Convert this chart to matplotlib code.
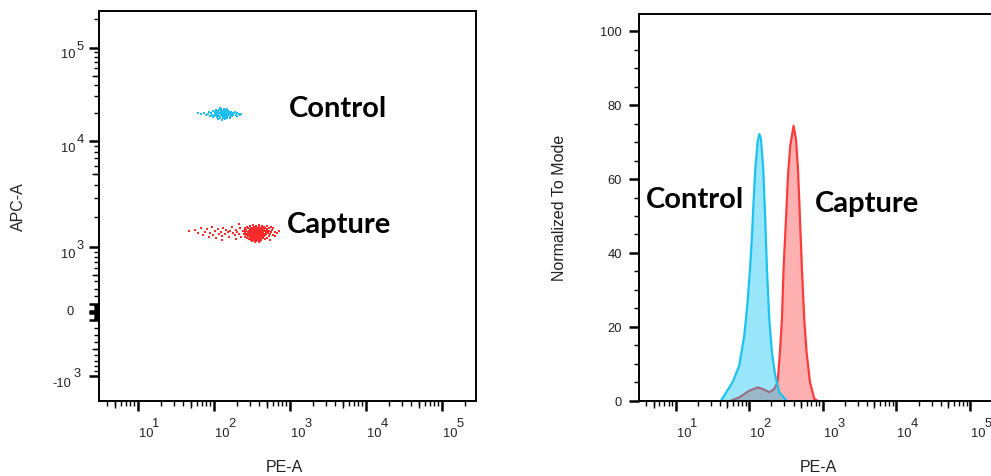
import numpy as np
import matplotlib
matplotlib.use('Agg')
import matplotlib.pyplot as plt

# ---------------- data ----------------
# Left panel: dot plot (PE-A vs APC-A)
control_pe = [62, 68, 74, 79, 83, 88, 90, 93, 96, 98, 101, 103, 105, 107, 109, 110, 112, 113, 115, 116,
              118, 119, 121, 122, 123, 124, 125, 126, 127, 128, 129, 130, 131, 132, 133, 134, 135, 136,
              137, 138, 139, 140, 141, 142, 143, 144, 145, 147, 148, 150, 151, 153, 155, 156, 158, 160,
              162, 164, 166, 168, 170, 173, 176, 179, 182, 186, 190, 195, 200, 205, 212, 220, 232,
              98, 115, 128, 140, 120, 108, 150]
control_apc = [19800, 19300, 20100, 19000, 19600, 20400, 18700, 19900, 19200, 20800, 18500, 19500, 20200,
               18900, 21000, 19700, 18200, 20500, 19100, 21400, 19800, 18600, 20100, 17800, 19400, 20900,
               18900, 21800, 19600, 20300, 18300, 19900, 21100, 17600, 20600, 19200, 18700, 22000, 20000,
               19400, 18100, 20800, 19700, 17900, 21300, 18800, 20200, 19300, 17500, 20700, 18400, 19800,
               21000, 18900, 19500, 20300, 18200, 19900, 17700, 20500, 19100, 18500, 20000, 19400, 18800,
               19700, 20400, 19000, 18600, 19800, 19300, 18900, 19500,
               17900, 17200, 16800, 17000, 22500, 21600, 21900]

capture_core_apc_rows = [1700, 1660, 1620, 1590, 1560, 1530, 1505, 1480, 1455, 1430, 1405,
                         1380, 1355, 1330, 1305, 1280, 1255, 1230, 1200, 1170, 1140]
capture_core_pe_rows = [
    [330, 400],
    [300, 365, 430, 510],
    [275, 340, 390, 455, 560],
    [262, 310, 355, 380, 420, 480],
    [285, 325, 348, 372, 398, 440, 530, 610],
    [255, 300, 332, 360, 385, 410, 450, 500],
    [270, 315, 342, 366, 392, 418, 465, 585],
    [248, 290, 322, 350, 376, 402, 430, 475, 540],
    [265, 305, 335, 358, 380, 395, 425, 455, 505],
    [280, 312, 340, 362, 385, 408, 440, 490, 570, 650],
    [258, 296, 328, 352, 370, 390, 415, 448, 520],
    [272, 308, 338, 356, 378, 400, 428, 470, 545],
    [250, 288, 318, 345, 368, 388, 412, 445, 495],
    [268, 300, 332, 355, 382, 405, 438, 480, 600],
    [282, 315, 342, 372, 395, 425, 460, 530],
    [260, 298, 330, 360, 385, 415, 450],
    [276, 310, 345, 375, 402, 440, 510],
    [290, 325, 358, 390, 425, 470],
    [305, 340, 380, 420, 555],
    [320, 365, 405],
    [350, 390],
]
capture_tail_pe = [47, 56, 62, 68, 72, 76, 81, 86, 90, 95, 99, 104, 108, 113, 118, 123, 128, 134, 140,
                   146, 152, 158, 165, 172, 180, 188, 196, 205, 214, 224, 232, 240, 215, 198, 130,
                   680, 720, 640]
capture_tail_apc = [1480, 1500, 1390, 1560, 1330, 1450, 1520, 1280, 1410, 1600, 1350, 1470, 1250, 1540,
                    1380, 1440, 1300, 1580, 1360, 1500, 1420, 1270, 1460, 1620, 1390, 1330, 1510, 1440,
                    1370, 1560, 1290, 1470, 1720, 1230, 1200,
                    1400, 1480, 1300]

# Right panel: histograms (Normalized To Mode vs PE-A)
control_hist_pe = [41.2, 59.3, 73.1, 85.5, 94.8, 102.3, 108.9, 114.3, 120.8, 129.7, 136.8, 144.2,
                   154.9, 164.8, 173.8, 187.1, 203.2, 225.4, 255.9, 321.4]
control_hist_mode = [0, 5.0, 9.5, 17.6, 26.6, 35.6, 44.7, 53.7, 62.7, 70.0, 72.2, 70.9,
                     62.7, 49.2, 35.6, 22.1, 13.1, 6.8, 2.3, 0]
capture_hist_pe = [56.4, 73.1, 100.0, 129.7, 151.7, 187.1, 218.8, 242.7, 261.2, 278.0, 292.4, 315.5,
                   335.7, 360.6, 399.9, 431.5, 459.2, 488.7, 520.0, 558.5, 601.2, 668.3, 763.8, 847.2]
capture_hist_mode = [0, 0.9, 2.7, 3.6, 3.2, 2.3, 3.2, 5.0, 13.1, 22.1, 35.6, 49.2,
                     60.9, 69.0, 74.4, 70.8, 62.7, 49.2, 35.6, 22.1, 13.1, 5.0, 0.5, 0]

decade_exps = [1, 2, 3, 4, 5]
apc_major = [-1000, 0, 1000, 10000, 100000]
mode_major = [0, 20, 40, 60, 80, 100]

# ---------------- style ----------------
W_PX, H_PX = 991, 477
TXT = '#222222'
TICK_FONT = 'Liberation Sans'
BOLD_FONT = 'Lato'
BLUE_DOT = '#1ebef2'
RED_DOT = '#ff2a2a'

fig = plt.figure(figsize=(W_PX / 100, H_PX / 100), dpi=100)


def fpos(x0, y0, x1, y1):
    return [x0 / W_PX, 1 - y1 / H_PX, (x1 - x0) / W_PX, (y1 - y0) / H_PX]


axL = fig.add_axes(fpos(99, 12, 476, 402))
axR = fig.add_axes(fpos(638.7, 15, 1000, 402))

# ---- biexponential-like scale for APC-A ----
LW = 700.0
anch_val = np.array(apc_major, dtype=float)
anch_pos = np.array([-64.0, 0.0, 65.0, 171.0, 264.5])
a = np.arcsinh(anch_val / LW)
s_lo = (anch_pos[1] - anch_pos[0]) / (a[1] - a[0])
s_hi = (anch_pos[-1] - anch_pos[-2]) / (a[-1] - a[-2])
A_ext = np.concatenate([[a[0] - 20], a, [a[-1] + 20]])
P_ext = np.concatenate([[anch_pos[0] - 20 * s_lo], anch_pos, [anch_pos[-1] + 20 * s_hi]])


def fwd(y):
    return np.interp(np.arcsinh(np.asarray(y, dtype=float) / LW), A_ext, P_ext)


def inv(p):
    return LW * np.sinh(np.interp(np.asarray(p, dtype=float), P_ext, A_ext))


axL.set_yscale('function', functions=(fwd, inv))
axL.set_xscale('log')
axR.set_xscale('log')

XL_L = (10 ** (1 - (137.7 - 99) / 76.0), 10 ** (5 + (476 - 441.7) / 76.0))
YL_L = (float(inv(-89.0)), float(inv(301.0)))
XL_R = (10 ** (1 - (675.7 - 638.7) / 73.6), 10 ** (5 + (1000 - 970) / 73.6))
YL_R = (-0.08, 104.7)

# ---- marks ----
capture_core_pe = [p for row in capture_core_pe_rows for p in row]
capture_core_apc = [y for y, row in zip(capture_core_apc_rows, capture_core_pe_rows) for _ in row]

axL.scatter(control_pe, control_apc, s=2.4, marker='s', c=BLUE_DOT, linewidths=0)
axL.scatter(capture_tail_pe, capture_tail_apc, s=2.4, marker='s', c=RED_DOT, linewidths=0)
axL.scatter(capture_core_pe, capture_core_apc, s=2.6, marker='s', c=RED_DOT, linewidths=0)

axR.fill_between(capture_hist_pe, capture_hist_mode, color='#ff4545', alpha=0.42, lw=0, zorder=1.0)
axR.plot(capture_hist_pe, capture_hist_mode, color='#ff3b3b', lw=1.6, zorder=1.2)
axR.fill_between(control_hist_pe, control_hist_mode, color='#00c0f0', alpha=0.40, lw=0, zorder=1.4)
axR.plot(control_hist_pe, control_hist_mode, color='#1cc3f0', lw=1.6, zorder=1.6)

# ---- spines / ticks ----
for ax in (axL, axR):
    for sp in ax.spines.values():
        sp.set_linewidth(1.4)
        sp.set_color('black')
        sp.set_zorder(3)
axR.spines['right'].set_visible(False)

log_major = [10.0 ** e for e in decade_exps]
log_minor = [m * 10.0 ** e for e in range(0, 6) for m in range(2, 10)]
log_mid = [5 * 10.0 ** e for e in range(0, 6)]

for ax, xl in ((axL, XL_L), (axR, XL_R)):
    ax.set_xticks(log_major)
    ax.set_xticks([v for v in log_minor if xl[0] < v < xl[1]], minor=True)
    ax.xaxis.remove_overlapping_locs = False

# decade ticks on the APC axis (incl. the crowded +-10, +-100 near zero)
apc_tick_major = sorted(apc_major + [-100, -10, 10, 100])
apc_minor = ([m * 10.0 ** e for e in range(1, 6) for m in range(2, 10)]
             + [-m * 10.0 ** e for e in range(1, 3) for m in range(2, 10)])
apc_minor = [v for v in apc_minor if YL_L[0] < v < YL_L[1]]
apc_mid = [500, 5000, 50000, -500]
axL.set_yticks(apc_tick_major)
axL.set_yticks(apc_minor, minor=True)
axL.yaxis.remove_overlapping_locs = False

axR.set_yticks(mode_major)
axR.set_yticks([v for v in range(5, 105, 5) if v % 20], minor=True)

for ax in (axL, axR):
    ax.tick_params(which='major', direction='out', length=7.5, width=1.8, color='black',
                   labelbottom=False, labelleft=False, top=False, right=False)
    ax.tick_params(which='minor', direction='out', length=3.3, width=1.0, color='black',
                   top=False, right=False)

# medium-length ticks at 5x decades
for ax, xl in ((axL, XL_L), (axR, XL_R)):
    mids = [v for v in log_mid if xl[0] < v < xl[1]]
    ax.plot(mids, [0] * len(mids), transform=ax.get_xaxis_transform(), ls='none',
            marker=3, ms=5.0, mew=1.0, color='black', clip_on=False)
mids = [v for v in apc_mid if YL_L[0] < v < YL_L[1]]
axL.plot([0] * len(mids), mids, transform=axL.get_yaxis_transform(), ls='none',
         marker=0, ms=5.0, mew=1.0, color='black', clip_on=False)

# limits last (set_ticks can widen the view)
axL.set_xlim(*XL_L)
axL.set_ylim(*YL_L)
axR.set_xlim(*XL_R)
axR.set_ylim(*YL_R)

# ---- tick labels (FlowJo style: 10 with raised exponent) ----
tk = dict(fontsize=9.3, color=TXT, family=TICK_FONT, textcoords='offset pixels')
for ax in (axL, axR):
    for e in decade_exps:
        ax.annotate('10', xy=(10.0 ** e, 0), xycoords=ax.get_xaxis_transform(), xytext=(1.0, -35.0),
                    ha='left', va='baseline', **tk)
        ax.annotate(str(e), xy=(10.0 ** e, 0), xycoords=ax.get_xaxis_transform(), xytext=(14.5, -25.0),
                    ha='left', va='baseline', **tk)

for v in apc_major:
    tr = axL.get_yaxis_transform()
    if v == 0:
        axL.annotate('0', xy=(0, v), xycoords=tr, xytext=(-25.7, 1.3), ha='right', va='center', **tk)
    else:
        e = int(round(np.log10(abs(v))))
        base = '10' if v > 0 else '-10'
        bx, ex = (-24, -22.5) if v > 0 else (-28, -25.0)
        axL.annotate(base, xy=(0, v), xycoords=tr, xytext=(bx, -10), ha='right', va='baseline', **tk)
        axL.annotate(str(e), xy=(0, v), xycoords=tr, xytext=(ex, -1.5 if v > 0 else 0),
                     ha='left', va='baseline', **tk)

for v in mode_major:
    axR.annotate(str(v), xy=(0, v), xycoords=axR.get_yaxis_transform(), xytext=(-17, -1),
                 ha='right', va='center', **tk)

# ---- axis titles ----
lab = dict(fontsize=11.5, color=TXT, family=TICK_FONT, ha='center', va='center')
fig.text(284 / W_PX, 1 - 467.5 / H_PX, 'PE-A', **lab)
fig.text(818 / W_PX, 1 - 467.5 / H_PX, 'PE-A', **lab)
fig.text(18.3 / W_PX, 1 - 206.7 / H_PX, 'APC-A', rotation=90, **lab)
fig.text(559.7 / W_PX, 1 - 208.3 / H_PX, 'Normalized To Mode', rotation=90, **lab)

# ---- annotations ----
big = dict(fontsize=21, fontweight='bold', family=BOLD_FONT, color='black', ha='left', va='baseline')
fig.text(289 / W_PX, 1 - 116.7 / H_PX, 'Control', **big)
fig.text(286.7 / W_PX, 1 - 233.3 / H_PX, 'Capture', **big)
fig.text(646 / W_PX, 1 - 208.3 / H_PX, 'Control', **big)
fig.text(815 / W_PX, 1 - 211.7 / H_PX, 'Capture', **big)

fig.savefig('out.png', dpi=100)
